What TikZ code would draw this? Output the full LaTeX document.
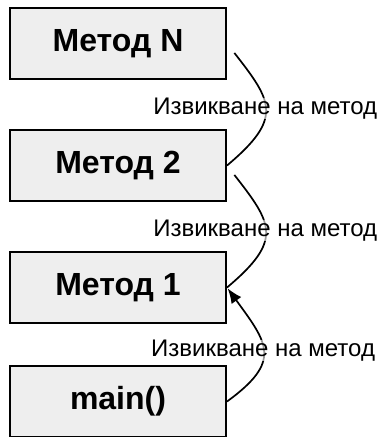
\documentclass[tikz,border=0pt]{standalone}
\usepackage{fontspec}
\setmainfont{Liberation Sans}
\usetikzlibrary{arrows.meta}
\definecolor{boxgray}{HTML}{EEEEEE}
\begin{document}
\begin{tikzpicture}[x=1pt,y=-1pt,
  metod/.style={draw=black, line width=2pt, fill=boxgray, minimum width=216pt,
    minimum height=71pt, inner sep=0pt, font=\fontsize{32}{38}\selectfont\bfseries},
  vikane/.style={font=\fontsize{24}{28}\selectfont, fill=white, fill opacity=0.6,
    text opacity=1, inner sep=0pt},
  poviz/.style={line width=1.7pt, looseness=1.55}]
  \useasboundingbox (0,0) rectangle (383,437);
  \node[metod] (metN) at (118,43.5) {Метод N};
  \node[metod] (met2) at (118,165.5) {Метод 2};
  \node[metod] (met1) at (118,287.5) {Метод 1};
  \node[metod] (main) at (118,401.5) {main()};
  \draw[poviz, shorten <=12pt] (metN.east) to[out=-52,in=40]
    node[vikane] {Извикване на метод} (met2.east);
  \draw[poviz, shorten <=12pt] (met2.east) to[out=-52,in=40]
    node[vikane] {Извикване на метод} (met1.east);
  \draw[poviz, -{Latex[length=15pt,width=12pt]}, shorten >=1pt] (main.east) to[out=36,in=-54]
    node[vikane] {Извикване на метод} (met1.east);
\end{tikzpicture}
\end{document}
